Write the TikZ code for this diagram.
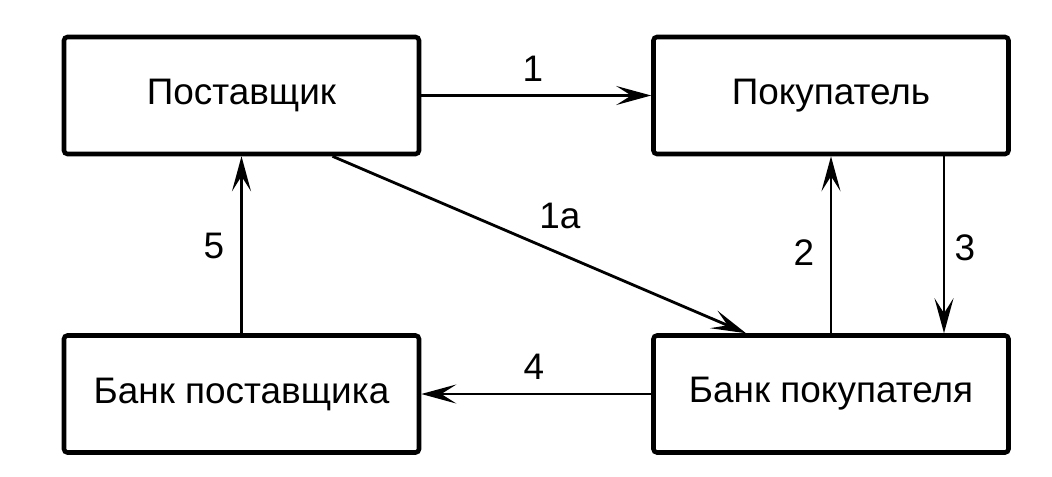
\documentclass[tikz,border=0pt]{standalone}
\usepackage{fontspec}
\setmainfont{Liberation Sans}
\usetikzlibrary{arrows.meta}

\tikzset{
  firm/.style={draw, line width=2.6pt, rounded corners=2pt, minimum width=7.1cm, minimum height=2.34cm, font=\fontsize{21}{25}\selectfont},
  flow/.style={line width=1.6pt, -{Stealth[length=0.7cm, width=0.38cm, inset=0.3cm]}},
  num/.style={font=\fontsize{21}{25}\selectfont}
}

\begin{document}
\begin{tikzpicture}
       \useasboundingbox (0,0) rectangle (21.04,-9.52);

       \node(P)[firm] at (4.83,-1.91) {Поставщик};
       \node(K)[firm] at (16.62,-1.91) {Покупатель};
       \node(BS)[firm] at (4.83,-7.88) {Банк поставщика};
       \node(BB)[firm] at (16.62,-7.88) {Банк покупателя};

       \draw[flow] (P) -- (K);
       \node(N1)[num] at (10.66,-1.38) {1};

       \coordinate(A1) at ([xshift=1.82cm]P.south);
       \coordinate(B1) at ([xshift=-1.70cm]BB.north);
       \draw[flow] (A1) -- (B1);
       \node(N1a)[num] at (11.2,-4.32) {1а};

       \draw[flow] (BB.north) -- (BB.north |- K.south);
       \node(N2)[num] at (16.08,-5.06) {2};

       \coordinate(K3) at ([xshift=2.26cm]K.south);
       \draw[flow] (K3) -- (K3 |- BB.north);
       \node(N3)[num] at (19.3,-4.96) {3};

       \draw[flow] (BB) -- (BS);
       \node(N4)[num] at (10.68,-7.34) {4};

       \draw[flow] (BS.north) -- (BS.north |- P.south);
       \node(N5)[num] at (4.28,-4.92) {5};

     \end{tikzpicture}
\end{document}
